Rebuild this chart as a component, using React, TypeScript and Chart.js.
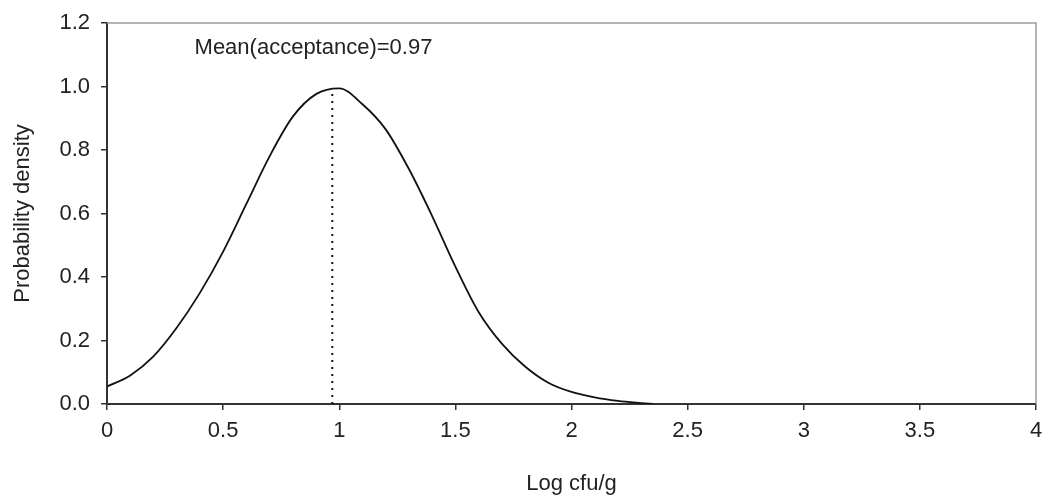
import React, { useEffect, useRef } from "react";
import { Chart, registerables } from "chart.js";

Chart.register(...registerables);

const xValues = [0, 0.1, 0.2, 0.3, 0.4, 0.5, 0.6, 0.7, 0.8, 0.9, 1.0, 1.1, 1.2, 1.3, 1.4, 1.5, 1.6, 1.7, 1.8, 1.9, 2.0, 2.1, 2.2, 2.3, 2.35];
const densityValues = [0.055, 0.09, 0.15, 0.24, 0.35, 0.48, 0.63, 0.78, 0.905, 0.976, 0.994, 0.944, 0.865, 0.74, 0.592, 0.433, 0.29, 0.19, 0.118, 0.067, 0.038, 0.021, 0.01, 0.003, 0];
const meanValue = 0.97;
const meanPeak = 0.995;
const meanLabel = "Mean(acceptance)=0.97";
const xTickValues = [0, 0.5, 1, 1.5, 2, 2.5, 3, 3.5, 4];
const yTickValues = [0, 0.2, 0.4, 0.6, 0.8, 1.0, 1.2];
const xTitle = "Log cfu/g";
const yTitle = "Probability density";

const FONT = "'Liberation Sans', Arial, sans-serif";
const FS = 22;

export default function App() {
  const ref = useRef<HTMLCanvasElement | null>(null);

  useEffect(() => {
    if (!ref.current) return;
    const framePlugin = {
      id: "frame",
      afterDatasetsDraw(chart: any) {
        const { ctx, chartArea } = chart;
        ctx.save();
        ctx.strokeStyle = "#9a9a9a";
        ctx.lineWidth = 1.5;
        ctx.beginPath();
        ctx.moveTo(chartArea.left, chartArea.top);
        ctx.lineTo(chartArea.right, chartArea.top);
        ctx.lineTo(chartArea.right, chartArea.bottom);
        ctx.stroke();
        const xs = chart.scales.x;
        const ys = chart.scales.y;
        ctx.fillStyle = "#222";
        ctx.font = `${FS}px ${FONT}`;
        ctx.textAlign = "left";
        ctx.textBaseline = "alphabetic";
        ctx.fillText(meanLabel, xs.getPixelForValue(0.377), ys.getPixelForValue(1.101));
        ctx.restore();
      },
    };

    const chart = new Chart(ref.current, {
      type: "line",
      data: {
        datasets: [
          {
            data: xValues.map((x, i) => ({ x, y: densityValues[i] })),
            borderColor: "#111",
            borderWidth: 1.8,
            pointRadius: 0,
            cubicInterpolationMode: "monotone",
            fill: false,
          },
          {
            data: [
              { x: meanValue, y: 0 },
              { x: meanValue, y: meanPeak },
            ],
            borderColor: "#111",
            borderWidth: 2,
            borderDash: [2, 5],
            pointRadius: 0,
            tension: 0,
            fill: false,
          },
        ],
      },
      options: {
        responsive: false,
        animation: false,
        events: [],
        layout: { padding: { left: 0, right: 9, top: 23, bottom: 0 } },
        plugins: { legend: { display: false }, tooltip: { enabled: false } },
        scales: {
          x: {
            type: "linear",
            min: 0,
            max: 4,
            afterBuildTicks: (s: any) => {
              s.ticks = xTickValues.map((v) => ({ value: v }));
            },
            afterFit: (s: any) => {
              s.height = 96;
              s.paddingLeft = 0;
              s.paddingRight = 0;
            },
            ticks: {
              color: "#222",
              font: { family: FONT, size: FS },
              padding: 8,
              maxRotation: 0,
              autoSkip: false,
              callback: (v: any) => String(v),
            },
            grid: {
              drawOnChartArea: false,
              drawTicks: true,
              tickLength: 6,
              color: "#333",
              lineWidth: 1.5,
            },
            border: { display: true, color: "#333", width: 2 },
            title: {
              display: true,
              text: xTitle,
              color: "#222",
              font: { family: FONT, size: FS },
              padding: { top: 0, bottom: 3 },
            },
          },
          y: {
            type: "linear",
            min: 0,
            max: 1.2,
            afterBuildTicks: (s: any) => {
              s.ticks = yTickValues.map((v) => ({ value: v }));
            },
            afterFit: (s: any) => {
              s.width = 107;
              s.paddingTop = 0;
              s.paddingBottom = 0;
            },
            ticks: {
              color: "#222",
              font: { family: FONT, size: FS },
              padding: 11,
              autoSkip: false,
              callback: (v: any) => Number(v).toFixed(1),
            },
            grid: {
              drawOnChartArea: false,
              drawTicks: true,
              tickLength: 6,
              color: "#333",
              lineWidth: 1.5,
            },
            border: { display: true, color: "#333", width: 2 },
            title: {
              display: true,
              text: yTitle,
              color: "#222",
              font: { family: FONT, size: FS },
              padding: { top: 10, bottom: 0 },
            },
          },
        },
      },
      plugins: [framePlugin],
    });
    return () => chart.destroy();
  }, []);

  return (
    <div style={{ position: "fixed", left: 0, top: 0, width: 1045, height: 500, background: "#fff" }}>
      <canvas ref={ref} width={1045} height={500} />
    </div>
  );
}
